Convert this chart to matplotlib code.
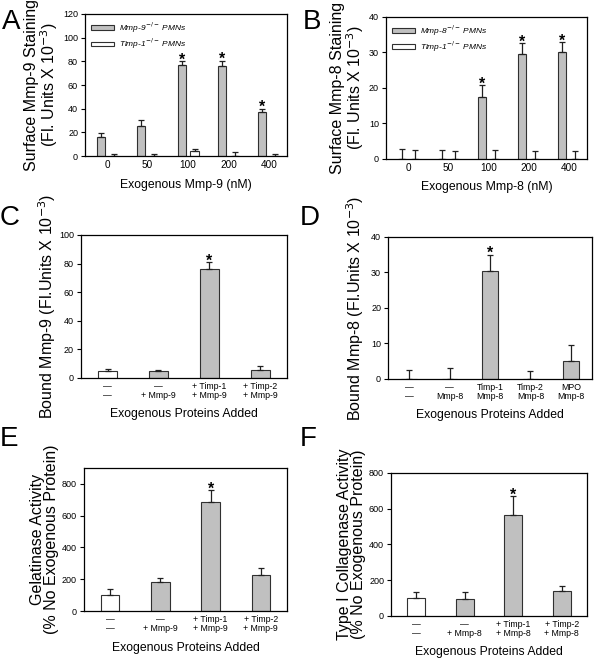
import matplotlib
matplotlib.use("Agg")
import matplotlib.pyplot as plt
import numpy as np

plt.rcParams['font.family'] = ['Liberation Sans', 'DejaVu Sans']

GREY = '#c0c0c0'
EDGE = '#303030'

# Panel A
a_cats = ['0', '50', '100', '200', '400']
a_ko = [16, 25.5, 76.5, 76, 37.5]
a_ko_err = [3.5, 5, 3.5, 4.5, 2.5]
a_timp = [0, 0, 4, 0, 0]
a_timp_err = [1.5, 2, 2, 3, 1.5]
a_star = [False, False, True, True, True]

# Panel B
b_cats = ['0', '50', '100', '200', '400']
b_ko = [0, 0, 17.5, 29.5, 30]
b_ko_err = [2.8, 2.5, 3.2, 3.2, 3.0]
b_timp = [0, 0, 0, 0, 0]
b_timp_err = [2.5, 2.2, 2.5, 2.2, 2.2]
b_star = [False, False, True, True, True]

# Panel C
c_cats = ['\u2014\n\u2014', '\u2014\n+ Mmp-9', '+ Timp-1\n+ Mmp-9', '+ Timp-2\n+ Mmp-9']
c_vals = [5, 5, 76.5, 5.5]
c_err = [1.5, 0.7, 4.5, 3]
c_star = [False, False, True, False]

# Panel D
d_cats = ['\u2014\n\u2014', '\u2014\nMmp-8', 'Timp-1\nMmp-8', 'Timp-2\nMmp-8', 'MPO\nMmp-8']
d_vals = [0, 0, 30.5, 0, 5]
d_err = [2.5, 3, 4.5, 2.3, 4.6]
d_star = [False, False, True, False, False]

# Panel E
e_cats = ['\u2014\n\u2014', '\u2014\n+ Mmp-9', '+ Timp-1\n+ Mmp-9', '+ Timp-2\n+ Mmp-9']
e_vals = [100, 185, 685, 225]
e_err = [40, 25, 75, 45]
e_star = [False, False, True, False]

# Panel F
f_cats = ['\u2014\n\u2014', '\u2014\n+ Mmp-8', '+ Timp-1\n+ Mmp-8', '+ Timp-2\n+ Mmp-8']
f_vals = [100, 95, 565, 140]
f_err = [35, 38, 105, 30]
f_star = [False, False, True, False]

fig = plt.figure(figsize=(6, 6.6), dpi=100)

def style(ax, ymax, ystep, ylabel, xlabel, labelpad=1):
    ax.set_ylim(0, ymax)
    ax.set_yticks(np.arange(0, ymax + 0.001, ystep))
    ax.tick_params(axis='y', labelsize=6.5, length=3, width=0.8, direction='out', pad=2)
    ax.tick_params(axis='x', length=0, pad=3)
    for s in ax.spines.values():
        s.set_linewidth(0.9)
    ax.set_ylabel(ylabel, fontsize=11.5, linespacing=0.95, labelpad=labelpad)
    ax.set_xlabel(xlabel, fontsize=8.8, labelpad=6)

def errs(ax, x, v, e):
    ax.errorbar(x, v, yerr=[np.zeros(len(e)), e], fmt='none', ecolor='#202020',
                elinewidth=0.9, capsize=2.2, capthick=0.9)

def stars(ax, x, v, e, s):
    for xi, vi, ei, si in zip(x, v, e, s):
        if si:
            ax.annotate('*', (xi, vi + ei), xytext=(0, -2.5), textcoords='offset points',
                        ha='center', va='baseline', fontsize=11.5, fontweight='bold')

def grouped(rect, cats, ko, koe, tm, tme, st, ymax, ystep, ylabel, xlabel, kolabel, tmlabel):
    ax = fig.add_axes(rect)
    x = np.arange(len(cats))
    w = 0.2
    xk = x - 0.16
    xt = x + 0.16
    ax.bar(xk, ko, w, color=GREY, edgecolor=EDGE, linewidth=0.8, label=kolabel)
    ax.bar(xt, tm, w, color='white', edgecolor=EDGE, linewidth=0.8, label=tmlabel)
    errs(ax, xk, ko, koe)
    errs(ax, xt, tm, tme)
    stars(ax, xk, ko, koe, st)
    ax.set_xlim(-0.55, 4.45)
    ax.set_xticks(x)
    ax.set_xticklabels(cats, fontsize=7.2)
    style(ax, ymax, ystep, ylabel, xlabel, labelpad=2)
    ax.legend(loc='upper left', frameon=False, handlelength=2.7,
              handleheight=0.45, borderaxespad=0.35, labelspacing=0.2, handletextpad=0.6,
              prop={'style': 'italic', 'size': 6})
    return ax

def single(rect, cats, vals, err, st, ymax, ystep, ylabel, xlabel, width, first_white=True, labelpad=2):
    ax = fig.add_axes(rect)
    x = np.arange(len(cats))
    colors = ['white'] + [GREY] * (len(cats) - 1) if first_white else [GREY] * len(cats)
    ax.bar(x, vals, width, color=colors, edgecolor=EDGE, linewidth=0.8)
    errs(ax, x, vals, err)
    stars(ax, x, vals, err, st)
    ax.set_xlim(-0.52, len(cats) - 0.48)
    ax.set_xticks(x)
    ax.set_xticklabels(cats, fontsize=6.3, linespacing=1.0)
    style(ax, ymax, ystep, ylabel, xlabel, labelpad=labelpad)
    return ax

grouped([0.1417, 0.7636, 0.3367, 0.2152], a_cats, a_ko, a_ko_err, a_timp, a_timp_err, a_star,
        120, 20, 'Surface Mmp-9 Staining\n(Fl. Units X 10$^{-3}$)', 'Exogenous Mmp-9 (nM)',
        'Mmp-9$^{-/-}$ PMNs', 'Timp-1$^{-/-}$ PMNs')
grouped([0.6433, 0.7591, 0.335, 0.2152], b_cats, b_ko, b_ko_err, b_timp, b_timp_err, b_star,
        40, 10, 'Surface Mmp-8 Staining\n(Fl. Units X 10$^{-3}$)', 'Exogenous Mmp-8 (nM)',
        'Mmp-8$^{-/-}$ PMNs', 'Timp-1$^{-/-}$ PMNs')

single([0.135, 0.4273, 0.3433, 0.2167], c_cats, c_vals, c_err, c_star, 100, 20,
       'Bound Mmp-9 (Fl.Units X 10$^{-3}$)', 'Exogenous Proteins Added', 0.37, labelpad=1)
single([0.6467, 0.4258, 0.34, 0.2152], d_cats, d_vals, d_err, d_star, 40, 10,
       'Bound Mmp-8 (Fl.Units X 10$^{-3}$)', 'Exogenous Proteins Added', 0.39,
       first_white=False, labelpad=4)
single([0.14, 0.0742, 0.3383, 0.2167], e_cats, e_vals, e_err, e_star, 900, 200,
       'Gelatinase Activity\n(% No Exogenous Protein)', 'Exogenous Proteins Added', 0.37, labelpad=2)
single([0.6517, 0.0667, 0.3267, 0.2167], f_cats, f_vals, f_err, f_star, 800, 200,
       'Type I Collagenase Activity\n(% No Exogenous Protein)', 'Exogenous Proteins Added', 0.37, labelpad=2)

for lab, x, y in [('A', 0.003, 0.987), ('B', 0.505, 0.987), ('C', 0.0, 0.69),
                  ('D', 0.5, 0.69), ('E', 0.0, 0.355), ('F', 0.5, 0.355)]:
    fig.text(x, y, lab, fontsize=20, ha='left', va='top')

fig.savefig('out.png', dpi=100)
